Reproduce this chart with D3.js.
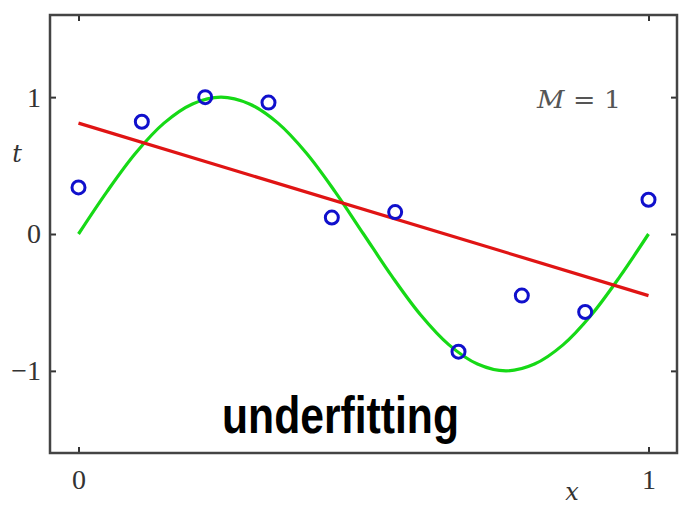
<!DOCTYPE html>
<html>
<meta charset="utf-8">
<style>
body { margin: 0; background: #fff; }
.tick text { font-family: 'Liberation Serif', 'DejaVu Serif', serif; font-size: 28px; fill: #333; }
.tick line { stroke: #333; stroke-width: 2px; }
.lbl { font-family: 'DejaVu Serif', serif; font-size: 24px; fill: #333; font-style: italic; }
</style>
<head>
<script src="https://cdn.jsdelivr.net/npm/d3@7"></script>
</head>
<body>
<script>
// data points (x, t)
var xs = [0, 1/9, 2/9, 3/9, 4/9, 5/9, 6/9, 7/9, 8/9, 1];
var ts = [0.34, 0.82, 1.0, 0.96, 0.12, 0.16, -0.86, -0.45, -0.57, 0.25];

// green curve read at x = 0, 0.05, ... 1
var curveX = [0, 0.05, 0.1, 0.15, 0.2, 0.25, 0.3, 0.35, 0.4, 0.45, 0.5,
              0.55, 0.6, 0.65, 0.7, 0.75, 0.8, 0.85, 0.9, 0.95, 1];
var curveT = [0, 0.31, 0.59, 0.81, 0.95, 1.0, 0.95, 0.81, 0.59, 0.31, 0,
              -0.31, -0.59, -0.81, -0.95, -1.0, -0.95, -0.81, -0.59, -0.31, 0];

// red M=1 fit, end points
var fitX = [0, 1];
var fitT = [0.81, -0.45];

var xTicks = [0, 1];
var yTicks = [-1, 0, 1];

(function () {
  var W = 682, H = 506;
  var left = 50, top = 15, right = 677, bottom = 453;

  var svg = d3.select("body").append("svg")
    .attr("width", W)
    .attr("height", H);

  var x = d3.scaleLinear().domain([-0.05, 1.05]).range([left, right]);
  var y = d3.scaleLinear().domain([-1.6, 1.6]).range([bottom, top]);

  // axes, inward ticks on all four sides
  svg.append("g").attr("transform", "translate(0," + bottom + ")")
    .call(d3.axisBottom(x).tickValues(xTicks).tickSize(-6).tickPadding(16).tickFormat(d3.format("d")));
  svg.append("g").attr("transform", "translate(0," + top + ")")
    .call(d3.axisTop(x).tickValues(xTicks).tickSize(-6).tickFormat(""));
  svg.append("g").attr("transform", "translate(" + left + ",0)")
    .call(d3.axisLeft(y).tickValues(yTicks).tickSize(-6).tickPadding(9).tickFormat(function(d){ return d < 0 ? "\u2212" + (-d) : d; }));
  svg.append("g").attr("transform", "translate(" + right + ",0)")
    .call(d3.axisRight(y).tickValues(yTicks).tickSize(-6).tickFormat(""));
  svg.selectAll(".domain").remove();

  svg.append("rect")
    .attr("x", left).attr("y", top)
    .attr("width", right - left).attr("height", bottom - top)
    .attr("fill", "none")
    .attr("stroke", "#444")
    .attr("stroke-width", 2.5);

  // true curve
  var curveData = curveX.map(function(d, i){ return [d, curveT[i]]; });
  svg.append("path")
    .datum(curveData)
    .attr("fill", "none")
    .attr("stroke", "#16d916")
    .attr("stroke-width", 3.2)
    .attr("d", d3.line()
      .x(function(d){ return x(d[0]); })
      .y(function(d){ return y(d[1]); })
      .curve(d3.curveCatmullRom));

  // fitted line
  var fitData = fitX.map(function(d, i){ return [d, fitT[i]]; });
  svg.append("path")
    .datum(fitData)
    .attr("fill", "none")
    .attr("stroke", "#e01414")
    .attr("stroke-width", 3.2)
    .attr("d", d3.line()
      .x(function(d){ return x(d[0]); })
      .y(function(d){ return y(d[1]); }));

  // data points
  svg.selectAll("circle.pt")
    .data(xs)
    .enter().append("circle")
    .attr("class", "pt")
    .attr("cx", function(d){ return x(d); })
    .attr("cy", function(d, i){ return y(ts[i]); })
    .attr("r", 6.5)
    .attr("fill", "none")
    .attr("stroke", "#1010cc")
    .attr("stroke-width", 3);

  // axis labels
  svg.append("text")
    .attr("class", "lbl")
    .attr("x", 17).attr("y", 162)
    .attr("text-anchor", "middle")
    .text("t");
  svg.append("text")
    .attr("class", "lbl")
    .attr("x", 572).attr("y", 500)
    .attr("text-anchor", "middle")
    .text("x");

  // M = 1
  var m = svg.append("text")
    .attr("x", 537).attr("y", 108)
    .attr("textLength", 84)
    .attr("lengthAdjust", "spacingAndGlyphs")
    .style("font-family", "'DejaVu Serif', serif")
    .style("font-size", "24px")
    .style("fill", "#555");
  m.append("tspan").style("font-style", "italic").text("M");
  m.append("tspan").text(" = 1");

  svg.append("text")
    .attr("x", 222).attr("y", 433)
    .attr("textLength", 237)
    .attr("lengthAdjust", "spacingAndGlyphs")
    .style("font-family", "'Liberation Sans', Arial, sans-serif")
    .style("font-weight", "bold")
    .style("font-size", "52px")
    .style("fill", "#000")
    .text("underfitting");
})();
</script>
</body>
</html>
